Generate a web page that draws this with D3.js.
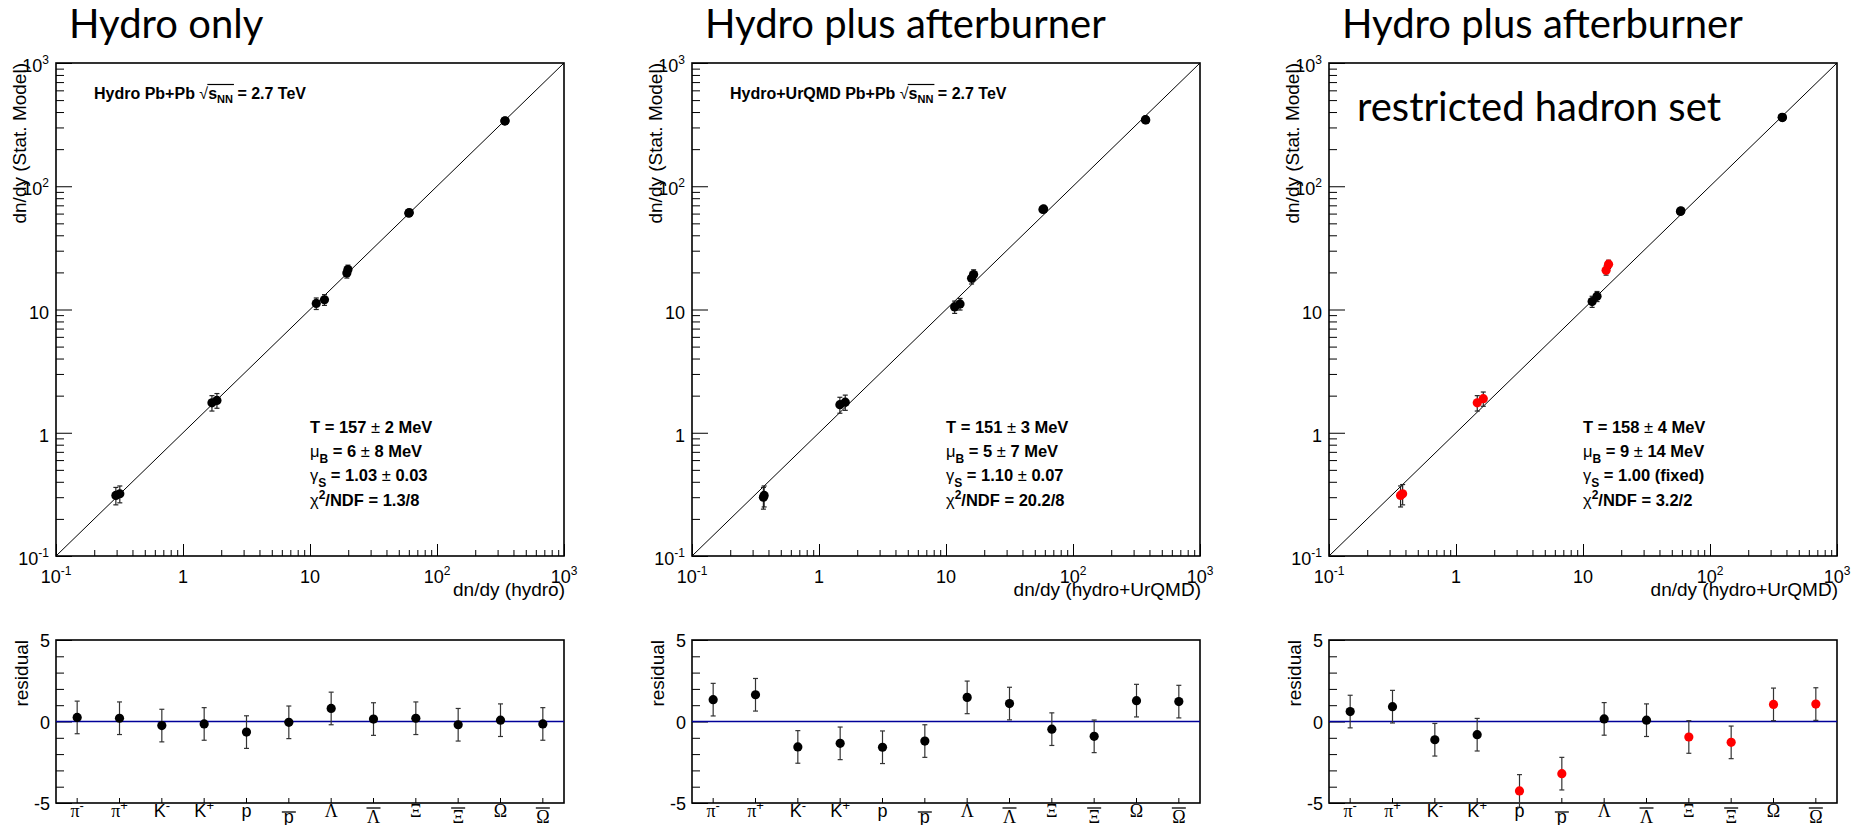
<!DOCTYPE html>
<html>
<head>
<meta charset="utf-8">
<script src="https://cdn.jsdelivr.net/npm/d3@7"></script>
<style>
    body { margin: 0; background: #fff; }
    text { font-family: "Liberation Sans", Arial, sans-serif; fill: #000; }
</style>
</head>
<body>
<script>
// panel texts
var panelTitles = ["Hydro only", "Hydro plus afterburner", "Hydro plus afterburner"];
var panelNotes = ["", "", "restricted hadron set"];
var energyLabels = ["Hydro Pb+Pb", "Hydro+UrQMD Pb+Pb", ""];
var xTitles = ["dn/dy (hydro)", "dn/dy (hydro+UrQMD)", "dn/dy (hydro+UrQMD)"];

// fit results
var tempVals = ["157", "151", "158"];
var tempErrs = ["2", "3", "4"];
var muVals = ["6", "5", "9"];
var muErrs = ["8", "7", "14"];
var gammaVals = ["1.03", "1.10", "1.00"];
var gammaErrs = ["0.03", "0.07", ""];
var chiVals = ["1.3/8", "20.2/8", "3.2/2"];

// particles (pi-, pi+, K-, K+, p, pbar, Lambda, Lambdabar, Xi, Xibar, Omega, Omegabar)
var particleNames = ["π", "π", "K", "K", "p", "p", "Λ", "Λ", "Ξ", "Ξ", "Ω", "Ω"];
var particleCharge = ["-", "+", "-", "+", "", "", "", "", "", "", "", ""];
var particleAnti = [0, 0, 0, 0, 0, 1, 0, 1, 0, 1, 0, 1];
var particleGreek = [1, 1, 0, 0, 0, 0, 1, 1, 1, 1, 1, 1];

// dn/dy: model input (x) vs stat. model fit (y)
var dndyHydro = [342, 344, 60.5, 60, 19.5, 19.9, 11.2, 13.0, 1.69, 1.85, 0.296, 0.318];
var statHydro = [338, 340, 61.2, 60.5, 19.8, 21.1, 11.2, 12.0, 1.75, 1.83, 0.31, 0.32];
var errHydro = [10, 10, 3, 3, 1.8, 1.8, 1.2, 1.2, 0.25, 0.25, 0.05, 0.05];

var dndyUrqmd = [374, 372, 58.7, 58, 15.9, 16.5, 11.7, 12.9, 1.46, 1.61, 0.365, 0.37];
var statUrqmd = [345, 347, 65.5, 64.8, 17.9, 19.2, 10.5, 11.1, 1.69, 1.77, 0.30, 0.31];
var errUrqmd = [10, 10, 3, 3, 1.8, 1.8, 1.2, 1.2, 0.25, 0.25, 0.06, 0.06];

var dndyRestr = [372, 370, 59, 58.5, 15.2, 15.9, 11.8, 12.9, 1.47, 1.64, 0.366, 0.38];
var statRestr = [361, 363, 63.2, 62.5, 20.8, 23.3, 11.6, 12.8, 1.75, 1.89, 0.31, 0.32];
var errRestr = [10, 10, 3, 3, 1.8, 1.8, 1.2, 1.2, 0.25, 0.25, 0.06, 0.06];

// residuals
var resHydro = [0.25, 0.2, -0.25, -0.15, -0.65, -0.05, 0.8, 0.15, 0.2, -0.2, 0.08, -0.15];
var resUrqmd = [1.34, 1.64, -1.56, -1.34, -1.58, -1.2, 1.48, 1.1, -0.47, -0.91, 1.28, 1.22];
var resRestr = [0.61, 0.91, -1.12, -0.81, -4.26, -3.2, 0.16, 0.08, -0.95, -1.28, 1.05, 1.07];
var resErr = [1, 1, 1, 1, 1, 1, 1, 1, 1, 1, 1, 1];

// points left out of the restricted fit (drawn red in the third panel)
var restrictedOut = [0, 0, 0, 0, 1, 1, 0, 0, 1, 1, 1, 1];

// axis ticks
var logMajor = [0.1, 1, 10, 100, 1000];
var logBase = ["10", "1", "10", "10", "10"];
var logExp = ["-1", "", "", "2", "3"];
var resMajor = [-5, 0, 5];

var dndy = [dndyHydro, dndyUrqmd, dndyRestr];
var stat = [statHydro, statUrqmd, statRestr];
var errs = [errHydro, errUrqmd, errRestr];
var res = [resHydro, resUrqmd, resRestr];

// layout
var W = 508, panelLeft = [56, 692, 1329];
var mainTop = 63, mainH = 493;
var resTop = 640, resH = 163;

var svg = d3.select("body")
    .append("svg")
    .attr("width", 1854)
    .attr("height", 825)
    .style("background-color", "#fff");

function pointColor(p, j){
    return (p == 2 && restrictedOut[j]) ? "#ff0000" : "#000";
}

function cleanAxis(sel){
    sel.select(".domain").remove();
    sel.selectAll("line").attr("stroke", "#000").attr("stroke-width", 1);
}

function addParts(text, parts){
    var shift = 0;
    parts.forEach(function(p){
        var t = text.append("tspan").text(p[0]);
        var target = 0;
        if (p[1] == "n") t.attr("font-weight", "normal");
        if (p[1] == "sub"){ target = 6; t.attr("font-size", 12); }
        if (p[1] == "sup"){ target = -7; t.attr("font-size", 12); }
        if (target != shift){ t.attr("dy", target - shift); shift = target; }
    });
}

for (var p = 0; p < 3; p++){
    var g = svg.append("g").attr("transform", "translate(" + panelLeft[p] + ",0)");

    var x = d3.scaleLog().domain([0.1, 1000]).range([0, W]);
    var y = d3.scaleLog().domain([0.1, 1000]).range([mainTop + mainH, mainTop]);
    var minor = x.ticks().filter(function(v){
        return logMajor.indexOf(v) < 0 && Math.abs(Math.log10(v) - Math.round(Math.log10(v))) > 1e-6;
    });

    // title
    g.append("text")
        .attr("x", 13)
        .attr("y", 38)
        .style("font-family", "Lato, 'Open Sans', sans-serif")
        .style("font-size", "40px")
        .text(panelTitles[p]);

    if (panelNotes[p]){
        g.append("text")
            .attr("x", 28)
            .attr("y", 121)
            .style("font-family", "Lato, 'Open Sans', sans-serif")
            .style("font-size", "40px")
            .text(panelNotes[p]);
    }

    // ticks on main plot
    g.append("g").call(d3.axisLeft(y).tickValues(minor).tickSize(-8).tickFormat("")).call(cleanAxis);
    g.append("g").call(d3.axisLeft(y).tickValues(logMajor).tickSize(-16).tickFormat("")).call(cleanAxis);
    g.append("g").attr("transform", "translate(0," + (mainTop + mainH) + ")")
        .call(d3.axisBottom(x).tickValues(minor).tickSize(-6).tickFormat("")).call(cleanAxis);
    g.append("g").attr("transform", "translate(0," + (mainTop + mainH) + ")")
        .call(d3.axisBottom(x).tickValues(logMajor).tickSize(-12).tickFormat("")).call(cleanAxis);

    g.append("rect")
        .attr("x", 0).attr("y", mainTop)
        .attr("width", W).attr("height", mainH)
        .style("fill", "none")
        .style("stroke", "#000")
        .style("stroke-width", 1.6);

    // y = x line
    g.append("line")
        .attr("x1", x(0.1)).attr("y1", y(0.1))
        .attr("x2", x(1000)).attr("y2", y(1000))
        .style("stroke", "#000")
        .style("stroke-width", 1);

    // tick labels
    logMajor.forEach(function(v, k){
        var ty = g.append("text")
            .attr("x", -7)
            .attr("y", y(v) + 9)
            .attr("text-anchor", "end")
            .style("font-size", "18px");
        ty.append("tspan").text(logBase[k]);
        if (logExp[k]) ty.append("tspan").attr("font-size", 12).attr("dy", -8).text(logExp[k]);

        var tx = g.append("text")
            .attr("x", x(v))
            .attr("y", 583)
            .attr("text-anchor", "middle")
            .style("font-size", "18px");
        tx.append("tspan").text(logBase[k]);
        if (logExp[k]) tx.append("tspan").attr("font-size", 12).attr("dy", -8).text(logExp[k]);
    });

    g.append("text")
        .attr("transform", "translate(-30," + mainTop + ") rotate(-90)")
        .attr("text-anchor", "end")
        .style("font-size", "19px")
        .text("dn/dy (Stat. Model)");

    g.append("text")
        .attr("x", W + 1)
        .attr("y", 596)
        .attr("text-anchor", "end")
        .style("font-size", "19px")
        .text(xTitles[p]);

    // energy label with sqrt(s_NN)
    if (energyLabels[p]){
        var lab = g.append("text")
            .attr("x", 38)
            .attr("y", 99)
            .style("font-size", "16px")
            .style("font-weight", "bold");
        lab.append("tspan").text(energyLabels[p] + " ");
        lab.append("tspan").style("font-weight", "normal").text("√");
        lab.append("tspan").text("s");
        lab.append("tspan").attr("font-size", 11).attr("dy", 4).text("NN");
        lab.append("tspan").attr("dy", -4).text(" = 2.7 TeV");
        var n0 = energyLabels[p].length + 1;
        var e1 = lab.node().getExtentOfChar(n0);
        var e3 = lab.node().getExtentOfChar(n0 + 3);
        g.append("line")
            .attr("x1", e1.x + e1.width - 0.8)
            .attr("x2", e3.x + e3.width + 1)
            .attr("y1", 99 - 14.5).attr("y2", 99 - 14.5)
            .style("stroke", "#000")
            .style("stroke-width", 1.2);
    }

    // fit results
    var gammaParts = gammaErrs[p]
        ? [["γ", "n"], ["S", "sub"], [" = " + gammaVals[p] + " ", "b"], ["±", "n"], [" " + gammaErrs[p], "b"]]
        : [["γ", "n"], ["S", "sub"], [" = " + gammaVals[p] + " (fixed)", "b"]];
    var fitLines = [
        [["T = " + tempVals[p] + " ", "b"], ["±", "n"], [" " + tempErrs[p] + " MeV", "b"]],
        [["μ", "n"], ["B", "sub"], [" = " + muVals[p] + " ", "b"], ["±", "n"], [" " + muErrs[p] + " MeV", "b"]],
        gammaParts,
        [["χ", "n"], ["2", "sup"], ["/NDF = " + chiVals[p], "b"]]
    ];
    var fitBase = [433, 457, 481, 506];
    fitLines.forEach(function(parts, k){
        var t = g.append("text")
            .attr("x", 254)
            .attr("y", fitBase[k])
            .style("font-size", "16.5px")
            .style("font-weight", "bold");
        addParts(t, parts);
    });

    // data points
    var pts = d3.range(12).map(function(j){
        return { x: dndy[p][j], y: stat[p][j], e: errs[p][j], j: j };
    });

    var eb = g.selectAll(".ebar" + p)
        .data(pts)
        .enter()
        .append("g")
        .attr("class", "ebar" + p)
        .style("stroke", "#222")
        .style("stroke-width", 1.2);
    eb.append("line")
        .attr("x1", function(d){ return x(d.x); })
        .attr("x2", function(d){ return x(d.x); })
        .attr("y1", function(d){ return y(d.y - d.e); })
        .attr("y2", function(d){ return y(d.y + d.e); });
    eb.append("line")
        .attr("x1", function(d){ return x(d.x) - 2.5; })
        .attr("x2", function(d){ return x(d.x) + 2.5; })
        .attr("y1", function(d){ return y(d.y - d.e); })
        .attr("y2", function(d){ return y(d.y - d.e); });
    eb.append("line")
        .attr("x1", function(d){ return x(d.x) - 2.5; })
        .attr("x2", function(d){ return x(d.x) + 2.5; })
        .attr("y1", function(d){ return y(d.y + d.e); })
        .attr("y2", function(d){ return y(d.y + d.e); });

    g.selectAll(".pt" + p)
        .data(pts)
        .enter()
        .append("circle")
        .attr("class", "pt" + p)
        .attr("cx", function(d){ return x(d.x); })
        .attr("cy", function(d){ return y(d.y); })
        .attr("r", 4.6)
        .style("fill", function(d){ return pointColor(p, d.j); });

    // ---- residual panel ----
    var xr = d3.scaleBand().domain(d3.range(12)).range([0, W]);
    var yr = d3.scaleLinear().domain([-5, 5]).range([resTop + resH, resTop]);
    var resMinor = yr.ticks(10).filter(function(v){ return resMajor.indexOf(v) < 0; });

    g.append("g").call(d3.axisLeft(yr).tickValues(resMinor).tickSize(-8).tickFormat("")).call(cleanAxis);
    g.append("g").call(d3.axisLeft(yr).tickValues(resMajor).tickSize(-16).tickFormat("")).call(cleanAxis);
    g.append("g").attr("transform", "translate(0," + (resTop + resH) + ")")
        .call(d3.axisBottom(xr).tickSize(-5).tickFormat("")).call(cleanAxis);

    g.append("rect")
        .attr("x", 0).attr("y", resTop)
        .attr("width", W).attr("height", resH)
        .style("fill", "none")
        .style("stroke", "#000")
        .style("stroke-width", 1.6);

    g.append("line")
        .attr("x1", 0).attr("x2", W)
        .attr("y1", yr(0)).attr("y2", yr(0))
        .style("stroke", "#000099")
        .style("stroke-width", 1.5);

    resMajor.forEach(function(v){
        g.append("text")
            .attr("x", -6)
            .attr("y", yr(v) + 7)
            .attr("text-anchor", "end")
            .style("font-size", "18px")
            .text(v);
    });

    g.append("text")
        .attr("transform", "translate(-28," + resTop + ") rotate(-90)")
        .attr("text-anchor", "end")
        .style("font-size", "19px")
        .text("residual");

    var rpts = d3.range(12).map(function(j){
        return { v: res[p][j], e: resErr[j], j: j };
    });
    var cx = function(d){ return xr(d.j) + xr.bandwidth() / 2; };

    var rb = g.selectAll(".rbar" + p)
        .data(rpts)
        .enter()
        .append("g")
        .attr("class", "rbar" + p)
        .style("stroke", "#333")
        .style("stroke-width", 1.2);
    rb.append("line")
        .attr("x1", cx).attr("x2", cx)
        .attr("y1", function(d){ return yr(d.v - d.e); })
        .attr("y2", function(d){ return yr(d.v + d.e); });
    rb.append("line")
        .attr("x1", function(d){ return cx(d) - 2.5; })
        .attr("x2", function(d){ return cx(d) + 2.5; })
        .attr("y1", function(d){ return yr(d.v - d.e); })
        .attr("y2", function(d){ return yr(d.v - d.e); });
    rb.append("line")
        .attr("x1", function(d){ return cx(d) - 2.5; })
        .attr("x2", function(d){ return cx(d) + 2.5; })
        .attr("y1", function(d){ return yr(d.v + d.e); })
        .attr("y2", function(d){ return yr(d.v + d.e); });

    g.selectAll(".rpt" + p)
        .data(rpts)
        .enter()
        .append("circle")
        .attr("class", "rpt" + p)
        .attr("cx", cx)
        .attr("cy", function(d){ return yr(d.v); })
        .attr("r", 4.6)
        .style("fill", function(d){ return pointColor(p, d.j); });

    // particle labels
    d3.range(12).forEach(function(j){
        var c = xr(j) + xr.bandwidth() / 2;
        var anti = particleAnti[j];
        var t = g.append("text")
            .attr("x", c)
            .attr("y", anti ? 823 : 817)
            .attr("text-anchor", "middle")
            .style("font-size", "18px")
            .style("font-family", particleGreek[j] ? "'Liberation Serif', 'DejaVu Serif', serif" : "'Liberation Sans', Arial, sans-serif");
        t.append("tspan").text(particleNames[j]);
        if (particleCharge[j]){
            t.append("tspan")
                .attr("font-size", 13)
                .attr("dy", -7)
                .style("font-family", "'Liberation Sans', Arial, sans-serif")
                .text(particleCharge[j]);
        }
        if (anti){
            var ly = particleGreek[j] ? 808 : 812;
            g.append("line")
                .attr("x1", c - 7).attr("x2", c + 7)
                .attr("y1", ly).attr("y2", ly)
                .style("stroke", "#000")
                .style("stroke-width", 1.3);
        }
    });
}
</script>
</body>
</html>
